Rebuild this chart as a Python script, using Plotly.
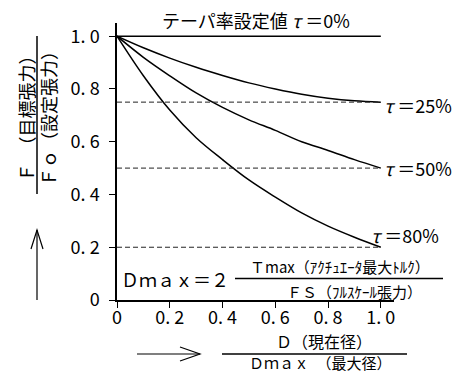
import plotly.graph_objects as go

# Normalised diameter D/Dmax
ratio = [0, 0.1, 0.2, 0.3, 0.4, 0.5, 0.6, 0.7, 0.8, 0.9, 1.0]

# Tension ratio F/Fo for each taper setting
taper_0 = [1.0, 1.0, 1.0, 1.0, 1.0, 1.0, 1.0, 1.0, 1.0, 1.0, 1.0]
taper_25 = [1.0, 0.956, 0.917, 0.882, 0.851, 0.823, 0.800, 0.780, 0.765, 0.755, 0.750]
taper_50 = [1.0, 0.920, 0.850, 0.785, 0.730, 0.683, 0.643, 0.600, 0.567, 0.532, 0.500]
taper_80 = [1.0, 0.850, 0.720, 0.615, 0.532, 0.455, 0.390, 0.330, 0.280, 0.238, 0.200]

# End levels of each taper curve (dashed guides)
end_levels = [0.75, 0.5, 0.2]
end_labels = ["25%", "50%", "80%"]

tick_vals = [0, 0.2, 0.4, 0.6, 0.8, 1.0]
tick_text = ["0", "0. 2", "0. 4", "0. 6", "0. 8", "1. 0"]

FONT = "Noto Sans CJK JP"
W_FIG, H_FIG = 467, 374
M_L, M_R, M_T, M_B = 117, 73, 23, 74
PW = W_FIG - M_L - M_R
PH = H_FIG - M_T - M_B


def fx(px):
    return (px - M_L) / PW


def fy(py):
    return (H_FIG - M_B - py) / PH


fig = go.Figure()

line_style = dict(color="black", width=1.5)
for series in (taper_0, taper_25, taper_50, taper_80):
    fig.add_trace(go.Scatter(x=ratio, y=series, mode="lines",
                             line=dict(shape="spline", **line_style),
                             hoverinfo="skip", showlegend=False))

for lvl in end_levels:
    fig.add_trace(go.Scatter(x=[ratio[0], ratio[-1]], y=[lvl, lvl], mode="lines",
                             line=dict(color="#222", width=1, dash="5px,3px"),
                             hoverinfo="skip", showlegend=False))

annotations = []
# taper labels at the curve ends
label_y = {"25%": 0.74, "50%": 0.5, "80%": 0.246}
label_x = {"25%": 1.005, "50%": 1.005, "80%": 0.955}
for lab in end_labels:
    annotations.append(dict(x=label_x[lab], y=label_y[lab], xref="x", yref="y",
                            text="<i>τ</i> ＝" + lab, showarrow=False,
                            xanchor="left", yanchor="middle",
                            font=dict(family=FONT, size=18, color="black")))

# top caption
annotations.append(dict(x=fx(256), y=fy(20), xref="paper", yref="paper",
                        text="テーパ率設定値 <i>τ</i> ＝0%", showarrow=False,
                        xanchor="center", yanchor="middle",
                        font=dict(family=FONT, size=18, color="black")))

# vertical axis title as a fraction
annotations.append(dict(x=fx(25.5), y=fy(114), xref="paper", yref="paper",
                        text="Ｆ　（目標張力）", textangle=-90, showarrow=False,
                        xanchor="center", yanchor="middle",
                        font=dict(family=FONT, size=18, color="black")))
annotations.append(dict(x=fx(48), y=fy(114), xref="paper", yref="paper",
                        text="Ｆｏ（設定張力）", textangle=-90, showarrow=False,
                        xanchor="center", yanchor="middle",
                        font=dict(family=FONT, size=18, color="black")))

# horizontal axis title as a fraction
annotations.append(dict(x=fx(324), y=fy(352.5), xref="paper", yref="paper",
                        text="Ｄ（現在径）", showarrow=False, height=20,
                        xanchor="center", yanchor="bottom",
                        font=dict(family=FONT, size=16, color="black")))
annotations.append(dict(x=fx(320), y=fy(374), xref="paper", yref="paper",
                        text="Ｄｍａｘ　（最大径）", showarrow=False, height=20,
                        xanchor="center", yanchor="bottom",
                        font=dict(family=FONT, size=15, color="black")))

# Dmax formula
annotations.append(dict(x=fx(119), y=fy(279), xref="paper", yref="paper",
                        text="Ｄｍａｘ＝２", showarrow=False,
                        xanchor="left", yanchor="middle",
                        font=dict(family=FONT, size=18, color="black")))
annotations.append(dict(x=fx(340), y=fy(278.5), xref="paper", yref="paper",
                        text="Ｔmax（ｱｸﾁｭｴｰﾀ最大ﾄﾙｸ）", showarrow=False,
                        xanchor="center", yanchor="bottom",
                        font=dict(family=FONT, size=15, color="black")))
annotations.append(dict(x=fx(354), y=fy(279), xref="paper", yref="paper",
                        text="ＦＳ（ﾌﾙｽｹｰﾙ張力）", showarrow=False,
                        xanchor="center", yanchor="top",
                        font=dict(family=FONT, size=15, color="black")))

shape_line = dict(color="black", width=1.5)
shapes = [
    # fraction bars
    dict(type="line", xref="paper", yref="paper", x0=fx(37), x1=fx(37),
         y0=fy(36), y1=fy(194), line=shape_line),
    dict(type="line", xref="paper", yref="paper", x0=fx(222), x1=fx(407),
         y0=fy(354), y1=fy(354), line=shape_line),
    dict(type="line", xref="paper", yref="paper", x0=fx(235), x1=fx(443),
         y0=fy(278.5), y1=fy(278.5), line=shape_line),
    # upward arrow
    dict(type="line", xref="paper", yref="paper", x0=fx(37), x1=fx(37),
         y0=fy(300), y1=fy(230), line=dict(color="black", width=1.2)),
    dict(type="path", xref="paper", yref="paper",
         path=f"M {fx(31)} {fy(249)} L {fx(37)} {fy(230)} L {fx(43)} {fy(249)}",
         line=dict(color="black", width=1.2)),
    # rightward arrow
    dict(type="line", xref="paper", yref="paper", x0=fx(137), x1=fx(200),
         y0=fy(354), y1=fy(354), line=dict(color="black", width=1.2)),
    dict(type="path", xref="paper", yref="paper",
         path=f"M {fx(180)} {fy(347)} L {fx(200)} {fy(354)} L {fx(180)} {fy(361)}",
         line=dict(color="black", width=1.2)),
]

axis_common = dict(range=[0, 1.05], tickvals=tick_vals, ticktext=tick_text,
                   ticks="outside", ticklen=6, tickwidth=1.2, tickcolor="black",
                   showgrid=False, zeroline=False, showline=True,
                   linecolor="black", linewidth=1.5,
                   tickfont=dict(family=FONT, size=18, color="black"),
                   fixedrange=True)

fig.update_layout(
    width=W_FIG, height=H_FIG,
    margin=dict(l=M_L, r=M_R, t=M_T, b=M_B),
    paper_bgcolor="white", plot_bgcolor="white",
    xaxis=dict(ticklabelstandoff=-5, **axis_common),
    yaxis=dict(ticklabelstandoff=6, **axis_common),
    annotations=annotations,
    shapes=shapes,
    showlegend=False,
)

fig.write_html("out.html", config={"displayModeBar": False})
